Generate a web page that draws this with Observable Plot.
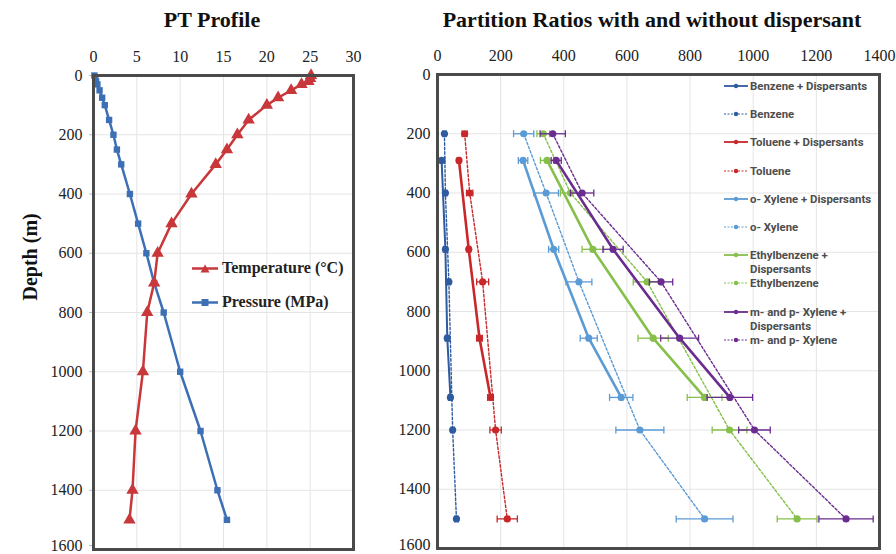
<!DOCTYPE html>
<html><head><meta charset="utf-8">
<script src="https://cdn.jsdelivr.net/npm/d3@7"></script>
<script src="https://cdn.jsdelivr.net/npm/@observablehq/plot@0.6"></script>
<style>
body{margin:0;background:#fff;}
#wrap{position:relative;width:896px;height:554px;overflow:hidden;background:#fff;}
.title{position:absolute;top:9px;font:bold 22px/22px "Liberation Serif",serif;color:#111;white-space:nowrap;transform:translateX(-50%);}
.plot{position:absolute;top:35px;}
.lg1{position:absolute;font:bold 16px/18px "Liberation Serif",serif;color:#222;display:flex;align-items:center;white-space:nowrap;}
.lg1 svg{margin-right:4px;}
#lg2{position:absolute;left:724px;top:79px;}
.lg2e{height:28.2px;display:flex;align-items:flex-start;font-family:Roboto,sans-serif;font-weight:700;font-size:11.4px;line-height:14px;color:#4d4d4d;white-space:nowrap;}
.lg2e svg{flex:none;margin-top:2px;margin-right:2px;}
</style></head>
<body><div id="wrap"></div>
<script>
// ---------- PT profile data ----------
const ptDepth = [0,10,20,30,50,75,100,150,200,250,300,400,500,600,700,800,1000,1200,1400,1500];
const temperature = [25.1,25.0,24.8,24.0,22.8,21.3,20.0,17.9,16.6,15.4,14.1,11.3,9.0,7.4,7.0,6.2,5.7,4.85,4.5,4.15];
const pressure = [0.1,0.2,0.3,0.45,0.7,1.0,1.3,1.8,2.3,2.7,3.2,4.2,5.15,6.1,7.0,8.1,10.0,12.35,14.3,15.4];
const ptTicks = [0,5,10,15,20,25,30];
const depthTicks = [0,200,400,600,800,1000,1200,1400,1600];
const ptLegend = ["Temperature (°C)","Pressure (MPa)"];

// ---------- Partition ratio data ----------
const depthWithDisp = [290,590,890,1090];
const depthNoDisp = [200,400,700,1200,1500];
const ratioTicks = [0,200,400,600,800,1000,1200,1400];
const seriesNames = ["Benzene + Dispersants","Benzene","Toluene + Dispersants","Toluene",
  "o- Xylene + Dispersants","o- Xylene","Ethylbenzene + Dispersants","Ethylbenzene",
  "m- and p- Xylene + Dispersants","m- and p- Xylene"];
const benzeneDisp = [13,25,31,41];        const benzeneDispErr = [10,6,6,6];
const benzene = [22,25,36,48,60];         const benzeneErr = [5,5,5,5,5];
const tolueneDisp = [68,99,133,168];      const tolueneDispErr = [5,6,9,9];
const toluene = [86,102,143,184,221];     const tolueneErr = [8,10,19,18,32];
const oXyleneDisp = [271,368,479,582];    const oXyleneDispErr = [15,16,27,37];
const oXylene = [273,344,448,641,846];    const oXyleneErr = [32,39,41,76,90];
const ethylDisp = [347,492,683,846];      const ethylDispErr = [21,34,48,55];
const ethyl = [335,421,664,925,1139];     const ethylErr = [20,32,44,55,63];
const mpXyleneDisp = [376,556,767,926];   const mpXyleneDispErr = [16,32,60,72];
const mpXylene = [365,458,708,1004,1294]; const mpXyleneErr = [40,37,37,50,86];

// ---------- styles ----------
const C = {benzene:"#2f5b9f", toluene:"#c8282a", oxylene:"#5b9bd5", ethyl:"#86bf4a", mp:"#6a2c8f"};
const seriesValues = [
  [benzeneDisp, benzeneDispErr, depthWithDisp, C.benzene, false],
  [benzene, benzeneErr, depthNoDisp, C.benzene, true],
  [tolueneDisp, tolueneDispErr, depthWithDisp, C.toluene, false],
  [toluene, tolueneErr, depthNoDisp, C.toluene, true],
  [oXyleneDisp, oXyleneDispErr, depthWithDisp, C.oxylene, false],
  [oXylene, oXyleneErr, depthNoDisp, C.oxylene, true],
  [ethylDisp, ethylDispErr, depthWithDisp, C.ethyl, false],
  [ethyl, ethylErr, depthNoDisp, C.ethyl, true],
  [mpXyleneDisp, mpXyleneDispErr, depthWithDisp, C.mp, false],
  [mpXylene, mpXyleneErr, depthNoDisp, C.mp, true]
];
const series = seriesNames.map((name,i) => {
  const [vals, errs, depths, color, dashed] = seriesValues[i];
  return {name, color, dashed, rows: vals.map((v,j) => ({name, value:v, err:errs[j], depth:depths[j]}))};
});

const ptRows = ptDepth.map((d,i) => ({depth:d, temperature:temperature[i], pressure:pressure[i]}));

const serif = "'Liberation Serif', 'Times New Roman', serif";
const gridStyle = {stroke:"#e4e4e4", strokeOpacity:1, strokeWidth:1};
const capSymbol = {draw(ctx, size){ const r = Math.sqrt(size/Math.PI); ctx.moveTo(0,-r); ctx.lineTo(0,r); }};
const fmt = d => String(d);
const lastDepth = depthTicks[depthTicks.length-1];
const depthTicksMain = depthTicks.slice(0,-1);

const wrap = document.getElementById("wrap");

// ---------- left plot ----------
const leftPlot = Plot.plot({
  width: 380, height: 519,
  marginTop: 40, marginLeft: 93, marginRight: 27, marginBottom: 5,
  style: {fontFamily: serif, fontSize: "16px", color: "#222", background: "transparent", overflow: "visible"},
  x: {domain: [0,30]},
  y: {domain: [0,1600], reverse: true},
  marks: [
    Plot.gridX(ptTicks, gridStyle),
    Plot.gridY(depthTicks, gridStyle),
    Plot.axisX(ptTicks, {anchor:"top", tickSize:0, tickPadding:14, label:null, fontSize:16, tickFormat:fmt}),
    Plot.axisY(depthTicksMain, {anchor:"left", tickSize:4, tickPadding:7, label:null, stroke:"#bbb", fontSize:16, tickFormat:fmt}),
    Plot.axisY([lastDepth], {anchor:"left", tickSize:4, tickPadding:7, label:null, stroke:"#bbb", fontSize:16, tickFormat:fmt, dy:-4}),
    Plot.line(ptRows, {x:"pressure", y:"depth", stroke:"#3d6fb5", strokeWidth:2.5}),
    Plot.dot(ptRows, {x:"pressure", y:"depth", symbol:"square", r:3.6, fill:"#3d6fb5"}),
    Plot.line(ptRows, {x:"temperature", y:"depth", stroke:"#c8373a", strokeWidth:2.5}),
    Plot.dot(ptRows, {x:"temperature", y:"depth", symbol:"triangle", r:4.6, fill:"#c8373a"}),
    Plot.frame({stroke:"#4a4a4a", strokeWidth:3}),
    Plot.text(["Depth (m)"], {frameAnchor:"left", text:d=>d, dx:-63, dy:-12, rotate:-90,
      fontSize:20, fontWeight:"bold", fontFamily:serif, fill:"#111"})
  ]
});
leftPlot.classList.add("plot");
leftPlot.style.left = "0px";
wrap.appendChild(leftPlot);

// ---------- right plot ----------
const seriesMarks = series.flatMap(s => {
  const sw = s.dashed ? 1.4 : (s.color === C.benzene ? 2 : 2.6);
  const dash = s.dashed ? "2.5,2" : null;
  return [
    Plot.link(s.rows, {x1:d=>d.value-d.err, x2:d=>d.value+d.err, y1:"depth", y2:"depth", stroke:s.color, strokeWidth:1.3}),
    Plot.dot(s.rows, {x:d=>d.value-d.err, y:"depth", symbol:capSymbol, r:3.5, stroke:s.color, strokeWidth:1.3}),
    Plot.dot(s.rows, {x:d=>d.value+d.err, y:"depth", symbol:capSymbol, r:3.5, stroke:s.color, strokeWidth:1.3}),
    Plot.line(s.rows, {x:"value", y:"depth", stroke:s.color, strokeWidth:sw, strokeDasharray:dash}),
    Plot.dot(s.rows, {x:"value", y:"depth", r:3.6, fill:s.color})
  ];
});

const rightPlot = Plot.plot({
  width: 516, height: 519,
  marginTop: 39, marginLeft: 57, marginRight: 17, marginBottom: 6,
  style: {fontFamily: serif, fontSize: "16px", color: "#222", background: "transparent", overflow: "visible"},
  x: {domain: [0,1400]},
  y: {domain: [0,1600], reverse: true},
  marks: [
    Plot.gridX(ratioTicks, gridStyle),
    Plot.gridY(depthTicks, gridStyle),
    Plot.axisX(ratioTicks, {anchor:"top", tickSize:0, tickPadding:14, label:null, fontSize:16, tickFormat:fmt}),
    Plot.axisY(depthTicksMain, {anchor:"left", tickSize:0, tickPadding:7, label:null, fontSize:16, tickFormat:fmt}),
    Plot.axisY([lastDepth], {anchor:"left", tickSize:0, tickPadding:7, label:null, fontSize:16, tickFormat:fmt, dy:-4}),
    ...seriesMarks,
    Plot.frame({stroke:"#4a4a4a", strokeWidth:3})
  ]
});
rightPlot.classList.add("plot");
rightPlot.style.left = "380px";
wrap.appendChild(rightPlot);

// ---------- titles ----------
function addTitle(text, cx){
  const t = document.createElement("div");
  t.className = "title"; t.textContent = text; t.style.left = cx + "px";
  wrap.appendChild(t);
}
addTitle("PT Profile", 212);
addTitle("Partition Ratios with and without dispersant", 652);

// ---------- left legend ----------
const ptLegendStyle = [["#c8373a","tri"],["#3d6fb5","sq"]];
ptLegend.forEach((label,i) => {
  const [col, sym] = ptLegendStyle[i];
  const e = document.createElement("div");
  e.className = "lg1";
  e.style.left = "192px";
  e.style.top = (259 + i*34) + "px";
  const marker = sym === "tri"
    ? `<path d="M13,1.5 L17.5,9.5 L8.5,9.5 Z" fill="${col}"/>`
    : `<rect x="9.5" y="2" width="7" height="7" fill="${col}"/>`;
  e.innerHTML = `<svg width="26" height="11"><line x1="0" y1="5.5" x2="26" y2="5.5" stroke="${col}" stroke-width="2.5"/>${marker}</svg><span>${label}</span>`;
  wrap.appendChild(e);
});

// ---------- right legend ----------
const lg = document.createElement("div");
lg.id = "lg2";
series.forEach(s => {
  const e = document.createElement("div");
  e.className = "lg2e";
  const dash = s.dashed ? `stroke-dasharray="2,1.5"` : "";
  const sw = s.dashed ? 1.2 : 1.8;
  const label = s.name.replace(" + Dispersants", " +<br>Dispersants");
  const needsBreak = s.name.startsWith("Ethylbenzene +") || s.name.startsWith("m- and p- Xylene +");
  e.innerHTML = `<svg width="24" height="10"><line x1="0" y1="5" x2="24" y2="5" stroke="${s.color}" stroke-width="${sw}" ${dash}/><circle cx="12" cy="5" r="2.2" fill="${s.color}"/></svg><span>${needsBreak ? label : s.name}</span>`;
  lg.appendChild(e);
});
wrap.appendChild(lg);
</script>
</body></html>
